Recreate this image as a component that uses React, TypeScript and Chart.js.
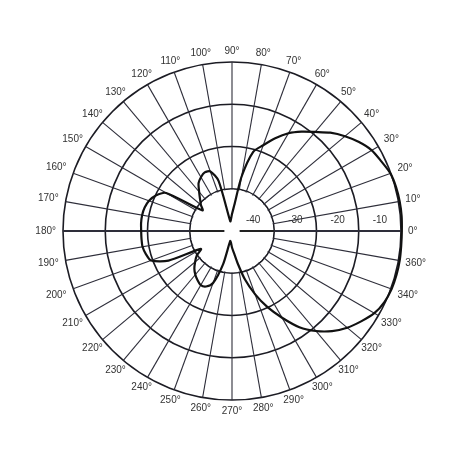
import { useEffect, useRef } from "react"
import { Chart, registerables } from "chart.js"

Chart.register(...registerables)

// sample angles (deg, counter-clockwise from 0° at the right) and gain (dB)
const angleDeg = [
  0, 5, 10, 15, 20, 25, 30, 35, 40, 45, 50, 55, 60, 65, 70, 75, 80, 85,
  90, 95, 100, 105, 110, 115, 120, 125, 130, 135, 140, 145, 150, 155, 160, 165, 170, 175,
  180, 185, 190, 195, 200, 205, 210, 215, 220, 225, 230, 235, 240, 245, 250, 255, 260, 265,
  270, 275, 280, 285, 290, 295, 300, 305, 310, 315, 320, 325, 330, 335, 340, 345, 350, 355,
]
const gainDb = [
  0.2, 0.3, 0.3, 0.2, -0.1, -1.0, -1.8, -3.3, -5.1, -7.1, -9.4, -11.3, -13.3, -15.8, -18.4, -20.6, -26.9, -33.9,
  -36.0, -37.2, -37.7, -27.7, -25.0, -24.7, -25.3, -26.2, -27.9, -29.3, -30.4, -31.5, -22.0, -20.1, -19.1, -18.6, -18.4, -18.4,
  -18.5, -18.5, -18.5, -18.9, -19.6, -23.4, -31.5, -29.8, -28.6, -27.4, -26.5, -25.8, -25.2, -25.5, -26.9, -31.9, -37.6, -37.2,
  -36.1, -34.8, -32.2, -28.1, -24.1, -20.1, -16.3, -12.2, -9.1, -6.5, -4.4, -2.7, -1.1, -0.2, 0.2, 0.3, 0.3, 0.2,
]

// printed labels round the rim, every 10° counter-clockwise from 0°
const angleLabels = [
  "0°", "10°", "20°", "30°", "40°", "50°", "60°", "70°", "80°", "90°", "100°", "110°",
  "120°", "130°", "140°", "150°", "160°", "170°", "180°", "190°", "200°", "210°", "220°", "230°",
  "240°", "250°", "260°", "270°", "280°", "290°", "300°", "310°", "320°", "330°", "340°", "360°",
]

// dB band labels printed along the 0° axis
const bandLabels = [-40, -30, -20, -10]

const DB_MIN = -40
const DB_MAX = 0

// radar goes clockwise, the plot goes counter-clockwise: reorder 0, 355, 350, ...
const order = angleDeg.map((_, j) => (angleDeg.length - j) % angleDeg.length)
const chartAngles = order.map((k) => angleDeg[k])
const chartGain = order.map((k) => gainDb[k])

const FONT = "10px 'Liberation Sans', Arial, sans-serif"

const polarDecor = {
  id: "polarDecor",
  beforeDatasetsDraw(chart: any) {
    const scale = chart.scales.r
    const ctx = chart.ctx
    const cx = scale.xCenter
    const cy = scale.yCenter
    const R = scale.drawingArea
    const inner = scale.getDistanceFromCenterForValue(-30)

    ctx.save()
    // no spokes inside the innermost ring
    ctx.fillStyle = "#fff"
    ctx.beginPath()
    ctx.arc(cx, cy, inner - 1, 0, Math.PI * 2)
    ctx.fill()

    // the 0°-180° axis carries on inside it
    ctx.strokeStyle = "#222"
    ctx.lineWidth = 2
    for (const idx of [chartAngles.indexOf(0), chartAngles.indexOf(180)]) {
      const a = scale.getPointPositionForValue(idx, -38.2)
      const b = scale.getPointPositionForValue(idx, -30)
      ctx.beginPath()
      ctx.moveTo(a.x, a.y)
      ctx.lineTo(b.x, b.y)
      ctx.stroke()
    }

    ctx.font = FONT
    ctx.fillStyle = "#333"
    ctx.textAlign = "center"
    ctx.textBaseline = "middle"

    // band labels, in the middle of each band
    bandLabels.forEach((v) => {
      const p = scale.getPointPositionForValue(0, v + 5)
      ctx.fillText(String(v), p.x, p.y - 11)
    })

    // angle labels outside the rim
    chartAngles.forEach((deg, idx) => {
      if (deg % 10) return
      const text = angleLabels[deg / 10]
      const p = scale.getPointPositionForValue(idx, DB_MAX)
      const ux = (p.x - cx) / R
      const uy = (p.y - cy) / R
      const w = ctx.measureText(text).width
      const h = 8
      const dx = Math.abs(ux) > 1e-6 ? w / 2 / Math.abs(ux) : Infinity
      const dy = Math.abs(uy) > 1e-6 ? h / 2 / Math.abs(uy) : Infinity
      const r = R + 7 + Math.min(dx, dy)
      ctx.fillText(text, cx + ux * r, cy + uy * r)
    })
    ctx.restore()
  },
}

export default function App() {
  const chartRef = useRef<HTMLCanvasElement>(null)
  const chartInstance = useRef<Chart | null>(null)

  useEffect(() => {
    if (!chartRef.current) return
    if (chartInstance.current) chartInstance.current.destroy()

    chartInstance.current = new Chart(chartRef.current, {
      type: "radar",
      data: {
        labels: chartAngles.map((a) => String(a)),
        datasets: [
          {
            data: chartGain,
            borderColor: "#111",
            borderWidth: 2.2,
            pointRadius: 0,
            fill: false,
            tension: 0.25,
            clip: false,
          } as any,
        ],
      },
      options: {
        animation: false,
        responsive: true,
        maintainAspectRatio: false,
        layout: { padding: { left: 63, right: 57, top: 62, bottom: 58 } },
        plugins: {
          legend: { display: false },
          tooltip: { enabled: false },
        },
        scales: {
          r: {
            min: DB_MIN,
            max: DB_MAX,
            startAngle: 90,
            ticks: { display: false, stepSize: 10 },
            pointLabels: { display: false },
            grid: {
              circular: true,
              color: "#1c1c24",
              lineWidth: (c: any) => (c.index === 0 ? 0 : 1.6),
            },
            angleLines: {
              color: "#2e2e3a",
              lineWidth: (c: any) => {
                const deg = chartAngles[c.index]
                if (deg % 10) return 0
                return deg % 180 === 0 ? 2 : 1.1
              },
            },
          },
        },
      },
      plugins: [polarDecor],
    })

    return () => {
      if (chartInstance.current) {
        chartInstance.current.destroy()
        chartInstance.current = null
      }
    }
  }, [])

  return (
    <div style={{ position: "fixed", left: 0, top: 0, width: 458, height: 458, background: "#fff" }}>
      <canvas ref={chartRef} />
    </div>
  )
}
